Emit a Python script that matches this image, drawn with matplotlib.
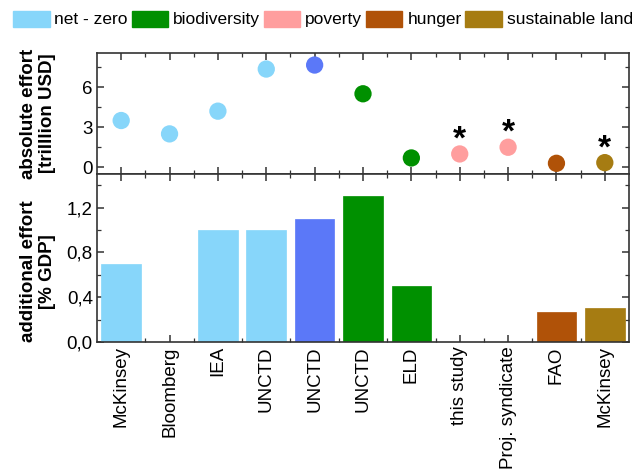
import matplotlib
matplotlib.use("Agg")
import matplotlib.pyplot as plt
from matplotlib.patches import Patch
from matplotlib.ticker import MultipleLocator, FuncFormatter

categories = ["McKinsey", "Bloomberg", "IEA", "UNCTD", "UNCTD", "UNCTD", "ELD",
              "this study", "Proj. syndicate", "FAO", "McKinsey"]
absolute_effort = [3.5, 2.5, 4.2, 7.35, 7.65, 5.5, 0.7, 1.0, 1.5, 0.3, 0.35]
additional_effort = [0.7, None, 1.0, 1.0, 1.1, 1.3, 0.5, None, None, 0.27, 0.3]
starred = [7, 8, 10]

c_net = "#87D6FA"
c_blue = "#5B78F8"
c_bio = "#009000"
c_pov = "#FF9E9E"
c_hun = "#B05208"
c_land = "#A67C12"
point_colors = [c_net, c_net, c_net, c_net, c_blue, c_bio, c_bio, c_pov, c_pov, c_hun, c_land]
legend_labels = ["net - zero", "biodiversity", "poverty", "hunger", "sustainable land"]
legend_colors = [c_net, c_bio, c_pov, c_hun, c_land]

plt.rcParams["font.family"] = ["Liberation Sans", "DejaVu Sans"]
fig = plt.figure(figsize=(6.38, 4.73), dpi=100)
L, R = 97 / 638, 629 / 638
ax1 = fig.add_axes([L, 1 - 174 / 473, R - L, (174 - 53) / 473])
ax2 = fig.add_axes([L, 1 - 342 / 473, R - L, (342 - 174) / 473], sharex=ax1)

x = list(range(len(categories)))
ax1.scatter(x, absolute_effort, s=155, c=point_colors, zorder=3, linewidths=0)
for i in starred:
    ax1.text(x[i], absolute_effort[i] + 1.05, "*", ha="center", va="center",
             fontsize=24, fontweight="bold")
ax1.set_ylim(-0.5, 8.55)
ax1.yaxis.set_major_locator(MultipleLocator(3))
ax1.yaxis.set_minor_locator(MultipleLocator(1.5))

for i, v in enumerate(additional_effort):
    if v is not None:
        ax2.bar(x[i], v, width=0.82, color=point_colors[i], edgecolor=point_colors[i],
                linewidth=0.5, zorder=2)
ax2.set_ylim(0, 1.5)
ax2.yaxis.set_major_locator(MultipleLocator(0.4))
ax2.yaxis.set_minor_locator(MultipleLocator(0.2))
ax2.yaxis.set_major_formatter(FuncFormatter(lambda v, p: f"{v:.1f}".replace(".", ",")))

ax2.set_xlim(-0.5, 10.5)
ax2.set_xticks(x)
ax2.set_xticks([i + 0.5 for i in x[:-1]], minor=True)
ax2.set_xticklabels(categories, rotation=90, fontsize=13.5)

for ax in (ax1, ax2):
    ax.tick_params(which="both", direction="in", top=True, right=True, labelsize=13.5,
                   color="#333333", pad=3)
    ax.tick_params(which="major", length=5, width=1.1)
    ax.tick_params(which="minor", length=3, width=0.9)
    for s in ax.spines.values():
        s.set_linewidth(1.2)
        s.set_color("#333333")
plt.setp(ax1.get_xticklabels(), visible=False)

ax1.set_ylabel("absolute effort\n[trilllion USD]", fontsize=13.5, fontweight="bold",
               linespacing=1.15)
ax2.set_ylabel("additional effort\n[% GDP]", fontsize=13.5, fontweight="bold",
               linespacing=1.15)
ax1.yaxis.set_label_coords(-0.077, 0.5)
ax2.yaxis.set_label_coords(-0.077, 0.42)

handles = [Patch(facecolor=c, edgecolor=c) for c in legend_colors]
fig.legend(handles, legend_labels, loc="center", bbox_to_anchor=(0.5 + 4 / 638, 1 - 19 / 473),
           ncol=5, frameon=False, fontsize=12.5, handlelength=2.1, handleheight=1.05,
           handletextpad=0.28, columnspacing=0.22, borderaxespad=0.0, borderpad=0.0)

fig.savefig("out.png", dpi=100)
